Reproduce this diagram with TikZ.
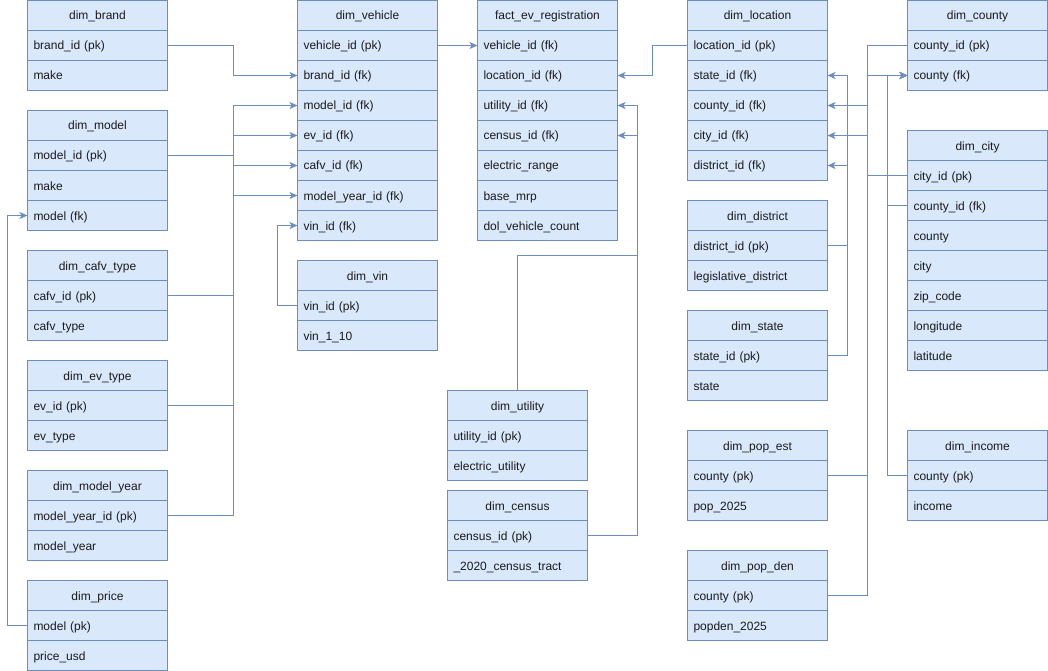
\documentclass[tikz,border=0pt]{standalone}
\usepackage{fontspec}
\setmainfont{Liberation Sans}
\usetikzlibrary{arrows.meta}
\definecolor{erfill}{HTML}{DAE8FC}
\definecolor{erline}{HTML}{6C8EBF}
\definecolor{ertext}{HTML}{1A1A1A}
\tikzset{
 cell/.style={draw=erline, fill=erfill, line width=1pt, minimum width=140pt, minimum height=30pt,
   inner xsep=6pt, inner ysep=0pt, outer sep=0pt, font=\fontsize{12}{14}\selectfont, text=ertext,
   text height=10.5pt, text depth=1.5pt},
 hdr/.style={cell, text width=128pt, align=center},
 fld/.style={cell, text width=128pt, align=left},
 fk/.style={draw=erline, line width=1pt, -{Stealth[length=8pt,width=7pt,inset=2pt]}},
 lnk/.style={draw=erline, line width=1pt},
}
\newcommand{\ertab}[4]{%
 \node[hdr, anchor=north west] (#1-0) at (#2) {#3};
 \foreach \f [count=\i, remember=\i as \j (initially 0)] in {#4} {
   \node[fld, anchor=north] (#1-\i) at (#1-\j.south) {\f};
 }
}
\begin{document}
\begin{tikzpicture}[x=1pt,y=-1pt]
\useasboundingbox (0,0) rectangle (1048,671);
% column 1
\ertab{brand}{27.5,0.5}{dim\_brand}{brand\_id (pk), make}
\ertab{model}{27.5,110.5}{dim\_model}{model\_id (pk), make, model (fk)}
\ertab{cafv}{27.5,250.5}{dim\_cafv\_type}{cafv\_id (pk), cafv\_type}
\ertab{ev}{27.5,360.5}{dim\_ev\_type}{ev\_id (pk), ev\_type}
\ertab{my}{27.5,470.5}{dim\_model\_year}{model\_year\_id (pk), model\_year}
\ertab{price}{27.5,580.5}{dim\_price}{model (pk), price\_usd}
% column 2
\ertab{veh}{297.5,0.5}{dim\_vehicle}{vehicle\_id (pk), brand\_id (fk), model\_id (fk), ev\_id (fk), cafv\_id (fk), model\_year\_id (fk), vin\_id (fk)}
\ertab{vin}{297.5,260.5}{dim\_vin}{vin\_id (pk), vin\_1\_10}
% column 3
\ertab{fact}{477.5,0.5}{fact\_ev\_registration}{vehicle\_id (fk), location\_id (fk), utility\_id (fk), census\_id (fk), electric\_range, base\_mrp, dol\_vehicle\_count}
\ertab{util}{447.5,390.5}{dim\_utility}{utility\_id (pk), electric\_utility}
\ertab{census}{447.5,490.5}{dim\_census}{census\_id (pk), \_2020\_census\_tract}
% column 4
\ertab{loc}{687.5,0.5}{dim\_location}{location\_id (pk), state\_id (fk), county\_id (fk), city\_id (fk), district\_id (fk)}
\ertab{dist}{687.5,200.5}{dim\_district}{district\_id (pk), legislative\_district}
\ertab{state}{687.5,310.5}{dim\_state}{state\_id (pk), state}
\ertab{popest}{687.5,430.5}{dim\_pop\_est}{county (pk), pop\_2025}
\ertab{popden}{687.5,550.5}{dim\_pop\_den}{county (pk), popden\_2025}
% column 5
\ertab{county}{907.5,0.5}{dim\_county}{county\_id (pk), county (fk)}
\ertab{city}{907.5,130.5}{dim\_city}{city\_id (pk), county\_id (fk), county, city, zip\_code, longitude, latitude}
\ertab{income}{907.5,430.5}{dim\_income}{county (pk), income}
% connectors, left
\draw[fk] (brand-1.east) -- ++(65.5,0) |- (veh-2.west);
\draw[fk] (model-1.east) -- ++(65.5,0) |- (veh-3.west);
\draw[fk] (ev-1.east) -- ++(65.5,0) |- (veh-4.west);
\draw[fk] (cafv-1.east) -- ++(65.5,0) |- (veh-5.west);
\draw[fk] (my-1.east) -- ++(65.5,0) |- (veh-6.west);
\draw[fk] (vin-1.west) -- ++(-20,0) |- (veh-7.west);
\draw[fk] (price-1.west) -- ++(-20,0) |- (model-3.west);
% middle
\draw[fk] (veh-1.east) -- (fact-1.west);
\draw[fk] (loc-1.west) -- ++(-35,0) |- (fact-2.east);
\draw[fk] (util-0.north) -- ++(0,-135) -- ++(120,0) |- (fact-3.east);
\draw[fk] (census-1.east) -- ++(50,0) |- (fact-4.east);
% right
\draw[fk] (state-1.east) -- ++(20,0) |- (loc-2.east);
\draw[fk] (dist-1.east) -- ++(20,0) |- (loc-5.east);
\draw[fk] (county-1.west) -- ++(-40,0) |- (loc-3.east);
\draw[fk] (city-1.west) -- ++(-40,0) |- (loc-4.east);
\draw[fk] (popest-1.east) -- ++(40,0) |- (county-2.west);
\draw[fk] (popden-1.east) -- ++(40,0) |- (county-2.west);
\draw[fk] (city-2.west) -- ++(-20,0) |- (county-2.west);
\draw[fk] (income-1.west) -- ++(-20,0) |- (county-2.west);
\end{tikzpicture}
\end{document}
